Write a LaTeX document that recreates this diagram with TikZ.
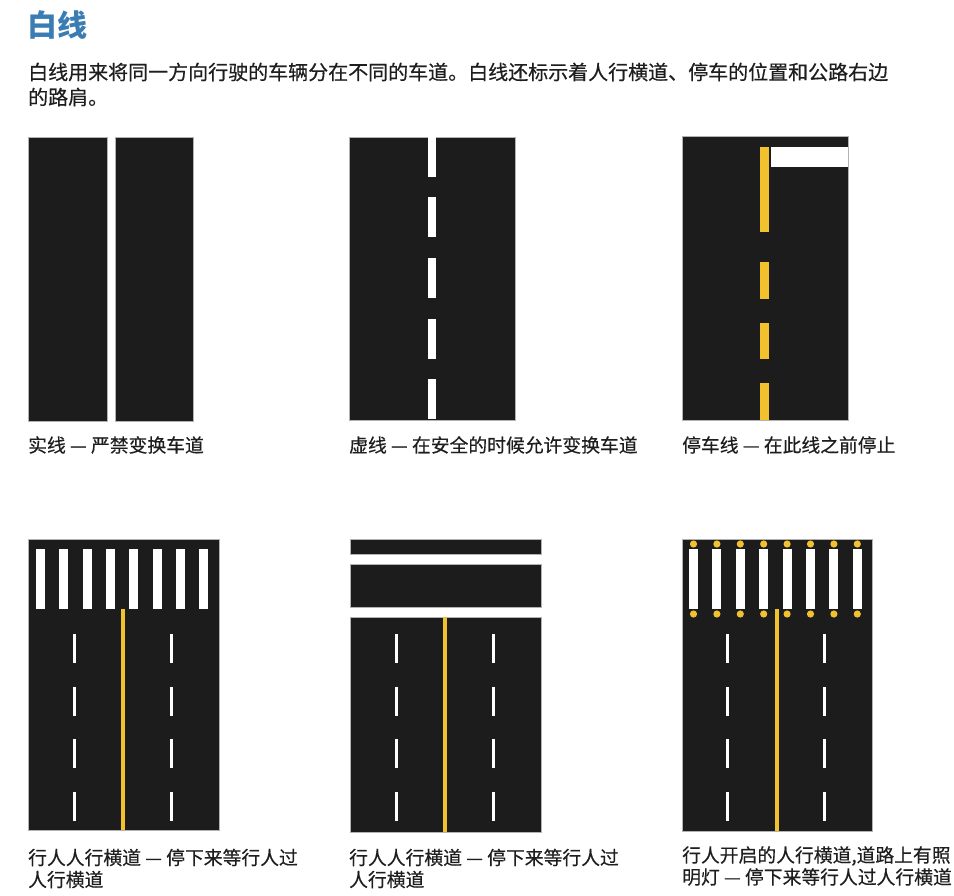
\documentclass[tikz,border=0pt]{standalone}
\usepackage{fontspec}
\setmainfont{Noto Sans CJK SC}
\newfontfamily\cjkmed[FakeBold=0.4]{Noto Sans CJK SC}
\definecolor{asphalt}{HTML}{1C1C1C}
\definecolor{lineyellow}{HTML}{F2C12E}
\definecolor{titleblue}{HTML}{3B7DB2}
\definecolor{txt}{HTML}{1E1E1E}
\tikzset{
  road/.style={fill=asphalt, draw=black!30, line width=0.6pt},
  whitemark/.style={fill=white},
  yellowmark/.style={fill=lineyellow},
  body/.style={anchor=west, inner sep=0pt, text=txt, font=\cjkmed\fontsize{20}{25}\selectfont},
  caption/.style={anchor=west, inner sep=0pt, text=txt, font=\cjkmed\fontsize{18.8}{22}\selectfont, align=left},
}
\begin{document}
\begin{tikzpicture}[x=1pt,y=-1pt]
\useasboundingbox (0,0) rectangle (954,896);
\fill[white] (0,0) rectangle (954,896);

% title and intro
\node[anchor=west, inner sep=0pt, text=titleblue, font=\fontsize{30}{32}\selectfont\bfseries] (title) at (27,25) {白线};
\node[body] (intro1) at (28,72) {白线用来将同一方向行驶的车辆分在不同的车道。白线还标示着人行横道、停车的位置和公路右边};
\node[body] (intro2) at (28,97) {的路肩。};

% panel 1: solid line
\fill[road] (28,137) rectangle (107,421);
\fill[road] (115,137) rectangle (193,421);
\node[caption] (cap1) at (28,445) {实线 — 严禁变换车道};

% panel 2: broken line
\fill[road] (349,137) rectangle (515,420);
\foreach \y in {137,197,258,319,379}
  \fill[whitemark] (428,\y) rectangle (436,{min(\y+40,420)});
\node[caption] (cap2) at (349,445) {虚线 — 在安全的时候允许变换车道};

% panel 3: stop line
\fill[road] (682,136) rectangle (848,420);
\fill[yellowmark] (760,147) rectangle (769,232);
\fill[yellowmark] (760,262) rectangle (769,299);
\fill[yellowmark] (760,323) rectangle (769,359);
\fill[yellowmark] (760,383) rectangle (769,420);
\fill[whitemark] (771,147) rectangle (848.3,167);
\node[caption] (cap3) at (682,445) {停车线 — 在此线之前停止};

% panel 4: pedestrian crosswalk
\fill[road] (28,539) rectangle (219,830);
\foreach \i in {0,...,7}
  \fill[whitemark] ({36+23.3*\i},549) rectangle +(9,60);
\fill[yellowmark] (121,609) rectangle (125,830);
\foreach \y in {634,687,739,792}{
  \fill[whitemark] (73,\y) rectangle +(3.2,29);
  \fill[whitemark] (170,\y) rectangle +(3.2,29);
}
\node[caption] (cap4) at (28,868.5) {行人人行横道 — 停下来等行人过\\人行横道};

% panel 5: crosswalk with bars
\fill[road] (350,539) rectangle (541,554);
\fill[road] (350,564) rectangle (541,607);
\fill[road] (350,617) rectangle (541,832);
\fill[yellowmark] (443,617) rectangle (447,832);
\foreach \y in {634,687,739,792}{
  \fill[whitemark] (395,\y) rectangle +(3.2,29);
  \fill[whitemark] (492,\y) rectangle +(3.2,29);
}
\node[caption] (cap5) at (349,868.5) {行人人行横道 — 停下来等行人过\\人行横道};

% panel 6: lit crosswalk
\fill[road] (682,539) rectangle (872,831);
\foreach \i in {0,...,7}{
  \fill[whitemark] ({689+23.4*\i},549) rectangle +(9,60);
  \fill[yellowmark] ({693.5+23.4*\i},544) circle (3.6);
  \fill[yellowmark] ({693.5+23.4*\i},614) circle (3.6);
}
\fill[yellowmark] (775,609) rectangle (778.5,831);
\foreach \y in {634,687,739,792}{
  \fill[whitemark] (726,\y) rectangle +(3.2,29);
  \fill[whitemark] (823,\y) rectangle +(3.2,29);
}
\node[caption] (cap6) at (682,866) {行人开启的人行横道,道路上有照\\明灯 — 停下来等行人过人行横道};
\end{tikzpicture}
\end{document}
